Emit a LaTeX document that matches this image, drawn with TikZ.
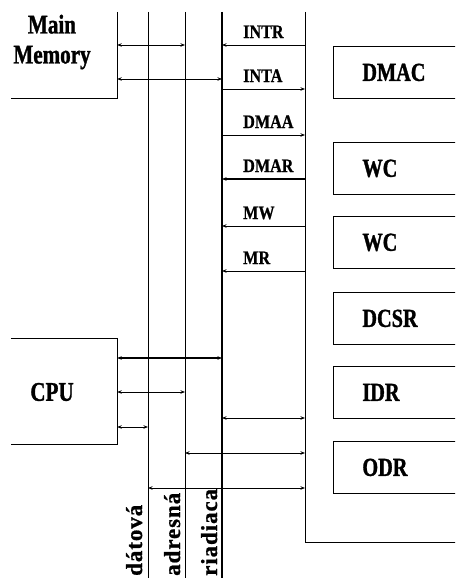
\documentclass[tikz,border=0pt]{standalone}
\usepackage{fontspec}
\setmainfont{Liberation Serif}
\newfontfamily\narrowfont[FakeStretch=0.78,FakeBold=1.2]{Liberation Serif}
\newfontfamily\sigfont[FakeStretch=0.85,FakeBold=0.8]{Liberation Serif}
\newfontfamily\busfont[LetterSpace=4,FakeBold=0.8]{Liberation Serif}
\usetikzlibrary{arrows.meta,positioning}

\begin{document}
\begin{tikzpicture}[x=1pt, y=-1pt,
    >={Stealth[length=4.5pt,width=3.5pt]},
    bus/.style={line width=0.8pt},
    ctlbus/.style={line width=1.6pt},
    link/.style={line width=0.8pt},
    unit/.style={inner sep=0pt, align=center, font=\narrowfont\bfseries\fontsize{27}{30}\selectfont},
    frame/.style={minimum width=106pt, inner sep=0pt},
    regbox/.style={draw, line width=0.8pt, anchor=north west, minimum height=52pt, text width=72pt, inner xsep=29pt, align=left, font=\narrowfont\bfseries\fontsize{26}{28}\selectfont},
    siglbl/.style={anchor=base west, inner sep=0pt, font=\sigfont\bfseries\fontsize{19}{20}\selectfont},
    buslbl/.style={rotate=90, anchor=base west, inner sep=0pt, font=\busfont\bfseries\fontsize{23}{24}\selectfont}
]
\useasboundingbox (0,0) rectangle (455,578);
\clip (0,0) rectangle (455,578);

% Buses
\coordinate (dat) at (148,12);
\coordinate (adr) at (185,12);
\coordinate (ctl) at (222,12);
\coordinate (dev) at (305,12);
\draw[bus] (dat) -- (dat |- 0,580);
\draw[bus] (adr) -- (adr |- 0,580);
\draw[ctlbus] (ctl) -- (ctl |- 0,580);
\draw[bus] (dev) -- (dev |- 0,542) -- (460,542);

% Bus names
\node[buslbl] (ldat) at (142,576) {dátová};
\node[buslbl] (ladr) at (180,576) {adresná};
\node[buslbl] (lctl) at (217,576) {riadiaca};

% Main Memory
\node[frame, minimum height=86pt] (mm) at (64,55) {};
\node[unit] (mmlbl) at (52,42) {Main\\Memory};
\draw[line width=1pt] (mm.north east) |- (mm.south west);

% CPU
\node[frame, minimum height=105pt] (cpu) at (64,391.5) {};
\node[unit] (cpulbl) at (52,392) {CPU};
\draw[line width=1pt] (cpu.north west) -| (cpu.south east) -- (cpu.south west);

% Memory and CPU links
\draw[link, <->] (mm.east |- 0,45) -- (adr |- 0,45);
\draw[link, <->] (mm.east |- 0,79) -- (ctl |- 0,79);
\draw[link, <->, line width=1.2pt] (cpu.east |- 0,358) -- (ctl |- 0,358);
\draw[link, <->] (cpu.east |- 0,392) -- (adr |- 0,392);
\draw[link, <->] (cpu.east |- 0,427) -- (dat |- 0,427);

% Control signals
\foreach \y/\sname/\dir/\w in {45/INTR/<-/0.8, 89/INTA/->/0.8, 135/DMAA/->/0.8,
    179/DMAR/<-/1.3, 226/MW/<-/0.8, 271/MR/<-/0.8} {
  \draw[line width=\w pt, \dir] (ctl |- 0,\y) -- (dev |- 0,\y);
  \node[siglbl] (\sname) at (243,{\y-7}) {\sname};
}

% Device links
\draw[link, <->] (ctl |- 0,418) -- (dev |- 0,418);
\draw[link, <->] (adr |- 0,453) -- (dev |- 0,453);
\draw[link, <->] (dat |- 0,488) -- (dev |- 0,488);

% Registers
\node[regbox] (dmac) at (333,46) {DMAC};
\node[regbox] (wca) at (333,142) {WC};
\node[regbox] (wcb) at (333,216) {WC};
\node[regbox] (dcsr) at (333,292) {DCSR};
\node[regbox] (idr) at (333,366) {IDR};
\node[regbox] (odr) at (333,441) {ODR};

\end{tikzpicture}
\end{document}
